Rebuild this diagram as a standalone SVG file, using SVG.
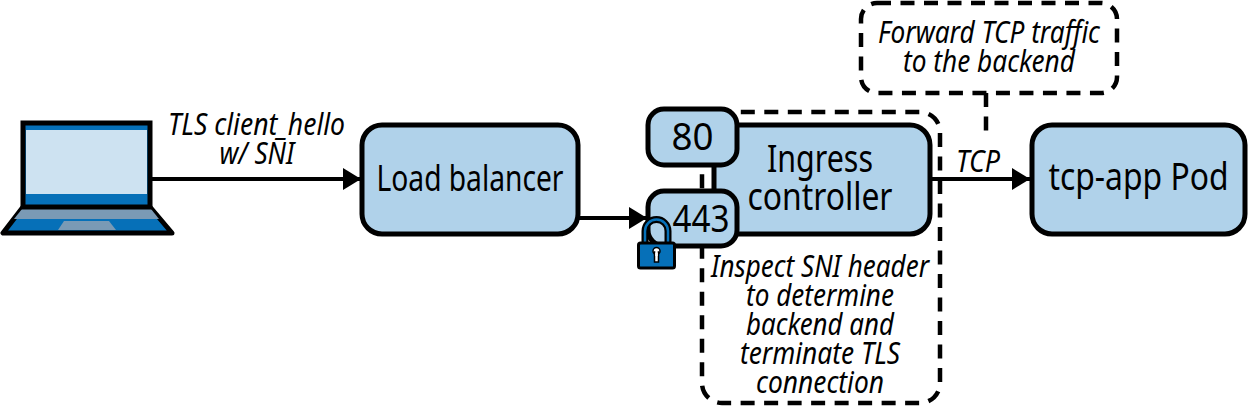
<svg xmlns="http://www.w3.org/2000/svg" width="1249" height="406" viewBox="0 0 1249 406">
<style>
.box{fill:#b0d2ea;stroke:#000;stroke-width:5}
.dash{fill:none;stroke:#000;stroke-width:4.5;stroke-dasharray:14 9.5}
.line{fill:none;stroke:#000;stroke-width:4}
text{font-family:"Noto Sans","Open Sans","Liberation Sans",sans-serif;fill:#000;text-anchor:middle}
.n{font-size:38px}
.i{font-size:30px;font-style:italic}
</style>
<defs>
<marker id="arrow" markerUnits="userSpaceOnUse" markerWidth="18" markerHeight="22" refX="18" refY="11" orient="auto"><path d="M0 0L18 11L0 22Z" fill="#000"/></marker>
</defs>
<g id="dashed-ingress"><rect class="dash" x="702" y="112" width="238" height="291" rx="20" stroke-dashoffset="4.700"/></g>
<g id="connectors">
<path class="line" d="M152 179H361" marker-end="url(#arrow)"/>
<path class="line" d="M579 218H647" marker-end="url(#arrow)"/>
<path class="line" d="M931 179H1030" marker-end="url(#arrow)"/>
<path class="dash" d="M986 93V134"/>
</g>
<g id="laptop">
<path d="M23 207L3 233H172L150 207Z" fill="#0670b8" stroke="#000" stroke-width="5" stroke-linejoin="round"/>
<path d="M22 209H151L159 219H14Z" fill="#7a9ab5"/>
<path d="M64 221H109L116 230H58Z" fill="#7a9ab5"/>
<rect x="23" y="123" width="127" height="84" fill="#0670b8" stroke="#000" stroke-width="5"/>
<rect x="26" y="130" width="121" height="64" fill="#cde2f1"/>
</g>
<g id="load-balancer"><rect class="box" x="362" y="125" width="216" height="109" rx="20"/><text class="n" x="470" y="191" style="font-size:36px" textLength="187" lengthAdjust="spacingAndGlyphs">Load balancer</text></g>
<g id="ingress"><rect class="box" x="714" y="125" width="216" height="109" rx="20"/><text class="n" x="820" y="172" textLength="106" lengthAdjust="spacingAndGlyphs">Ingress</text><text class="n" x="820" y="210" textLength="145" lengthAdjust="spacingAndGlyphs">controller</text></g>
<g id="port-80"><rect class="box" x="648" y="109" width="89" height="56" rx="16"/><text class="n" x="692.500" y="150" style="font-size:39px" textLength="42" lengthAdjust="spacingAndGlyphs">80</text></g>
<g id="port-443"><rect class="box" x="648" y="191" width="89" height="55" rx="16"/><text class="n" x="701" y="232" style="font-size:39px" textLength="57" lengthAdjust="spacingAndGlyphs">443</text></g>
<g id="lock">
<path d="M645 244V231a11.500 11.500 0 0 1 23 0V244" fill="none" stroke="#000" stroke-width="7"/>
<path d="M645 244V231a11.500 11.500 0 0 1 23 0V244" fill="none" stroke="#0670b8" stroke-width="2.500"/>
<rect x="638.500" y="243" width="36" height="25" rx="2" fill="#0670b8" stroke="#000" stroke-width="3"/>
<circle cx="656.500" cy="251" r="3.500" fill="#fff" stroke="#000" stroke-width="1.500"/><rect x="654.500" y="252" width="4" height="10" fill="#fff" stroke="#000" stroke-width="1.500"/><rect x="655.300" y="250" width="2.400" height="6" fill="#fff"/>
</g>
<g id="pod"><rect class="box" x="1032" y="125" width="213" height="109" rx="20"/><text class="n" transform="translate(1138.500 190) scale(1 1.050)" style="font-size:36px" textLength="180" lengthAdjust="spacingAndGlyphs">tcp-app Pod</text></g>
<g id="note-forward"><rect class="dash" x="861" y="3" width="256" height="90" rx="16"/><text class="i" x="989" y="43" textLength="222" lengthAdjust="spacingAndGlyphs">Forward TCP traffic</text><text class="i" x="989" y="72" textLength="172" lengthAdjust="spacingAndGlyphs">to the backend</text></g>
<g id="labels">
<text class="i" x="256.500" y="135" textLength="177" lengthAdjust="spacingAndGlyphs">TLS client_hello</text>
<text class="i" x="257" y="164" textLength="75" lengthAdjust="spacingAndGlyphs">w/ SNI</text>
<text class="i" x="978" y="172" textLength="44" lengthAdjust="spacingAndGlyphs">TCP</text>
<text class="i" x="820" y="277" textLength="218" lengthAdjust="spacingAndGlyphs">Inspect SNI header</text>
<text class="i" x="820" y="306" textLength="148" lengthAdjust="spacingAndGlyphs">to determine</text>
<text class="i" x="820" y="335" textLength="148" lengthAdjust="spacingAndGlyphs">backend and</text>
<text class="i" x="820" y="364" textLength="160" lengthAdjust="spacingAndGlyphs">terminate TLS</text>
<text class="i" x="820" y="393" textLength="128" lengthAdjust="spacingAndGlyphs">connection</text>
</g>
</svg>
